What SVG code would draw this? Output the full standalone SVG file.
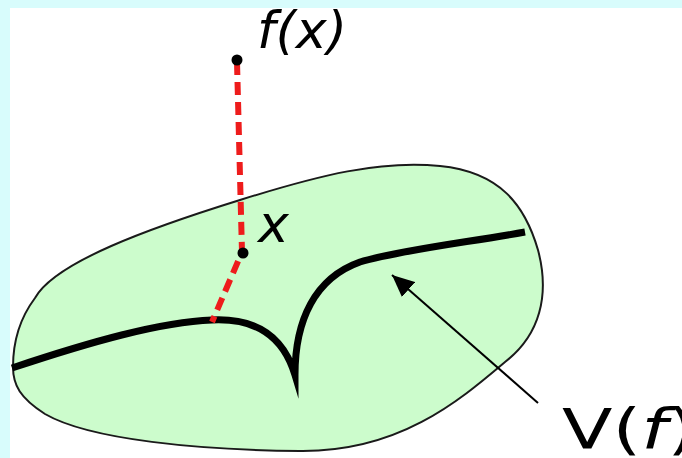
<svg xmlns="http://www.w3.org/2000/svg" width="682" height="458" viewBox="0 0 682 458">
<style>
.lbl{font-family:"DejaVu Sans","Verdana",sans-serif;fill:#000}
.it{font-style:oblique}
.dash{fill:none;stroke:#ee1c1c;stroke-width:6;stroke-dasharray:13 7}
.dot{fill:#000}
</style>
<defs>
<marker id="ah" markerUnits="userSpaceOnUse" markerWidth="24" markerHeight="20" refX="22" refY="10" orient="auto">
<path d="M0,0 L22,10 L0,20 Z" fill="#000"/>
</marker>
</defs>
<rect x="0" y="0" width="682" height="458" fill="#fff"/>
<g id="blob">
<path d="M 13,367 C 13,340 20,318 35,298 C 55,262 150,228 240,200 C 320,175 380,160 440,166 C 500,172 525,205 538,250 C 550,295 540,335 505,362 C 460,400 400,452 300,451 C 200,450 90,440 45,414 C 20,398 13,385 13,367 Z" fill="#ccfccc" stroke="#1a1a1a" stroke-width="2"/>
</g>
<g id="variety">
<path d="M 12,368 C 90,342 160,322 212,320 C 255,318 283,335 295,375 C 295,320 315,278 360,262 C 400,250 470,242 525,232" fill="none" stroke="#000" stroke-width="7" stroke-linejoin="miter" stroke-miterlimit="20"/>
</g>
<g id="connectors">
<path class="dash" d="M 237,62 L 242,252 L 212,322"/>
<line x1="538" y1="403" x2="392" y2="275" stroke="#000" stroke-width="2" marker-end="url(#ah)"/>
</g>
<g id="fx">
<circle class="dot" cx="237" cy="60" r="5.5"/>
<text class="lbl it" x="257" y="48" font-size="52" textLength="90" lengthAdjust="spacingAndGlyphs">f(x)</text>
</g>
<g id="x">
<circle class="dot" cx="243" cy="253" r="5.5"/>
<text class="lbl it" x="258" y="242" font-size="52">x</text>
</g>
<rect x="0" y="0" width="682" height="8" fill="#d8fcfc"/>
<rect x="0" y="0" width="10" height="458" fill="#d8fcfc"/>
<g id="vf">
<text class="lbl" x="562" y="448" font-size="55" textLength="134" lengthAdjust="spacingAndGlyphs">V(<tspan class="it">f</tspan>)</text>
</g>
</svg>
